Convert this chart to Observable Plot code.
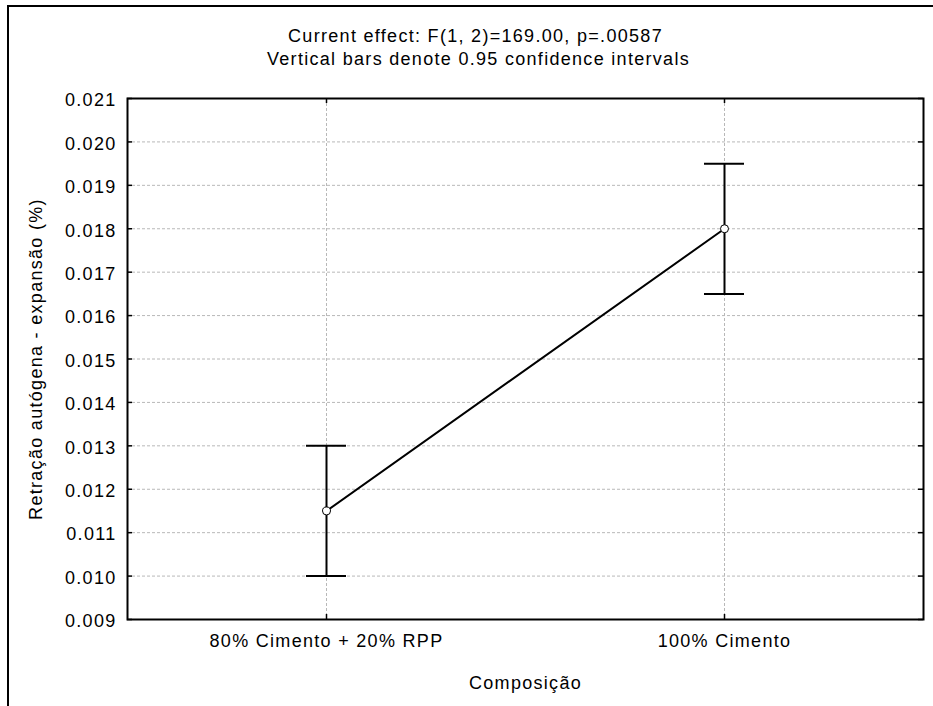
<!DOCTYPE html>
<html>
<head>
<meta charset="utf-8">
<script src="https://cdn.jsdelivr.net/npm/d3@7"></script>
<script src="https://cdn.jsdelivr.net/npm/@observablehq/plot@0.6"></script>
<style>
  html, body { margin: 0; padding: 0; background: #fff; }
  #wrap { position: relative; width: 933px; height: 706px; overflow: hidden; }
  #border { position: absolute; left: 7px; top: 5px; width: 1200px; height: 1200px; border: 2px solid #000; box-sizing: border-box; }
  #plot { position: absolute; left: 0; top: 0; }
</style>
</head>
<body>
<div id="wrap">
  <div id="border"></div>
  <div id="plot"></div>
</div>
<script>
const categories = ["80% Cimento + 20% RPP", "100% Cimento"];
const means = [0.0115, 0.0180];
const lower = [0.0100, 0.0165];
const upper = [0.0130, 0.0195];
const yTicks = [0.009, 0.010, 0.011, 0.012, 0.013, 0.014, 0.015, 0.016, 0.017, 0.018, 0.019, 0.020, 0.021];
const titleLines = ["Current effect: F(1, 2)=169.00, p=.00587", "Vertical bars denote 0.95 confidence intervals"];
const xLabel = "Composição";
const yLabel = "Retração autógena - expansão (%)";

const data = categories.map((c, i) => ({cat: c, mean: means[i], lo: lower[i], hi: upper[i]}));

const W = 933, H = 706, mL = 127, mR = 10, mT = 98, mB = 87;
const fw = W - mL - mR, fh = H - mT - mB;
const FS = 18;

const chart = Plot.plot({
  width: W, height: H,
  marginLeft: mL, marginRight: mR, marginTop: mT, marginBottom: mB,
  style: {fontFamily: "'Liberation Sans', Arial, sans-serif", fontSize: FS + "px", letterSpacing: "1.3px", background: "transparent", color: "#000"},
  x: {type: "point", domain: categories, padding: 0.5, label: null},
  y: {domain: [0.009, 0.021], label: null},
  marks: [
    Plot.gridY(yTicks, {stroke: "#b8b8b8", strokeOpacity: 1, strokeDasharray: "3,2"}),
    Plot.gridX(categories, {stroke: "#b8b8b8", strokeOpacity: 1, strokeDasharray: "3,2"}),
    Plot.ruleY(yTicks, {insetRight: fw - 5, stroke: "#000", strokeWidth: 1.5}),
    Plot.ruleY(yTicks, {insetLeft: fw - 5, stroke: "#000", strokeWidth: 1.5}),
    Plot.ruleX(categories, {insetBottom: fh - 5, stroke: "#000", strokeWidth: 1.5}),
    Plot.ruleX(categories, {insetTop: fh - 5, stroke: "#000", strokeWidth: 1.5}),
    Plot.axisY(yTicks, {tickSize: 0, tickPadding: 11, dy: 2, tickFormat: d3.format(".3f"), label: null, fontSize: FS}),
    Plot.axisX(categories, {tickSize: 0, tickPadding: 15, label: null, fontSize: FS}),
    Plot.text([titleLines[0]], {frameAnchor: "top", lineAnchor: "middle", dx: -50, dy: -62, fontSize: FS}),
    Plot.text([titleLines[1]], {frameAnchor: "top", lineAnchor: "middle", dx: -47, dy: -39, fontSize: FS}),
    Plot.text([yLabel], {frameAnchor: "left", textAnchor: "middle", lineAnchor: "middle", rotate: -90, dx: -91, fontSize: FS}),
    Plot.text([xLabel], {frameAnchor: "bottom", lineAnchor: "middle", dy: 64, fontSize: FS}),
    Plot.ruleX(data, {x: "cat", y1: "lo", y2: "hi", stroke: "#000", strokeWidth: 2}),
    Plot.ruleY(data, {x1: "cat", x2: "cat", y: "lo", stroke: "#000", strokeWidth: 2, insetLeft: -20, insetRight: -20}),
    Plot.ruleY(data, {x1: "cat", x2: "cat", y: "hi", stroke: "#000", strokeWidth: 2, insetLeft: -20, insetRight: -20}),
    Plot.line(data, {x: "cat", y: "mean", stroke: "#000", strokeWidth: 2}),
    Plot.dot(data, {x: "cat", y: "mean", r: 4, fill: "#fff", stroke: "#000", strokeWidth: 1}),
    Plot.frame({stroke: "#000", strokeWidth: 2})
  ]
});
document.getElementById("plot").appendChild(chart);
</script>
</body>
</html>
